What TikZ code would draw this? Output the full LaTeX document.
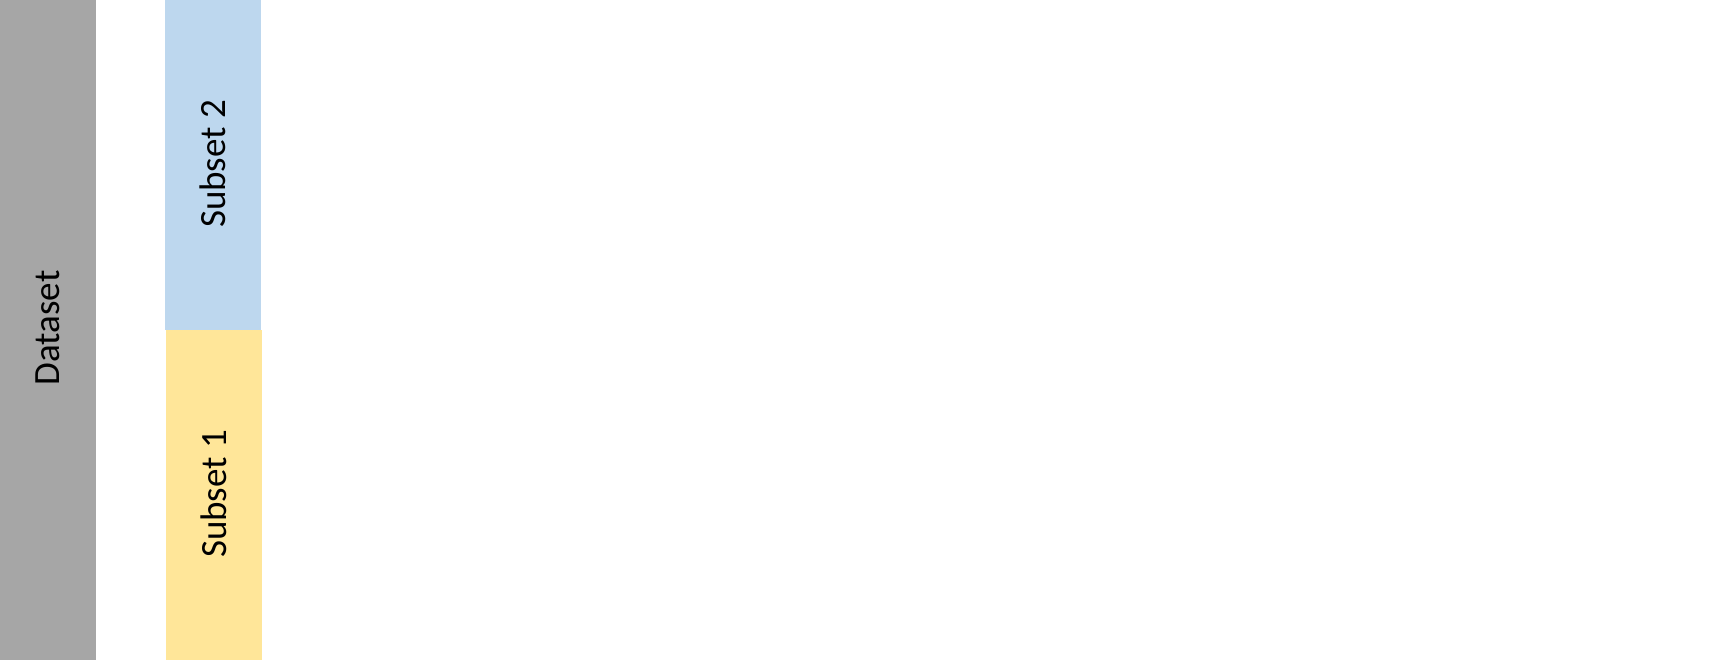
\documentclass[tikz,border=0pt]{standalone}
\usepackage{fontspec}
\setmainfont{Carlito}
\definecolor{dsgray}{HTML}{A6A6A6}
\definecolor{subblue}{HTML}{BDD7EE}
\definecolor{subyellow}{HTML}{FFE699}
\begin{document}
\begin{tikzpicture}[x=1pt,y=1pt,
  bar/.style={anchor=south west,inner sep=0pt,outer sep=0pt,draw=none},
  lbl/.style={rotate=90,font=\fontsize{37}{44}\selectfont,text=black,inner sep=0pt}]
\useasboundingbox[fill=white] (0,0) rectangle (1710,660);
\node[bar,fill=dsgray,minimum width=96pt,minimum height=660pt] (ds) at (0,0) {};
\node[bar,fill=subyellow,minimum width=96pt,minimum height=330pt] (s1) at (166,0) {};
\node[bar,fill=subblue,minimum width=96pt,minimum height=330pt] (s2) at (165,330) {};
\node[lbl] (dsl) at (48,332) {Dataset};
\node[lbl] (s1l) at (214,166) {Subset 1};
\node[lbl] (s2l) at (213,496) {Subset 2};
\end{tikzpicture}
\end{document}
